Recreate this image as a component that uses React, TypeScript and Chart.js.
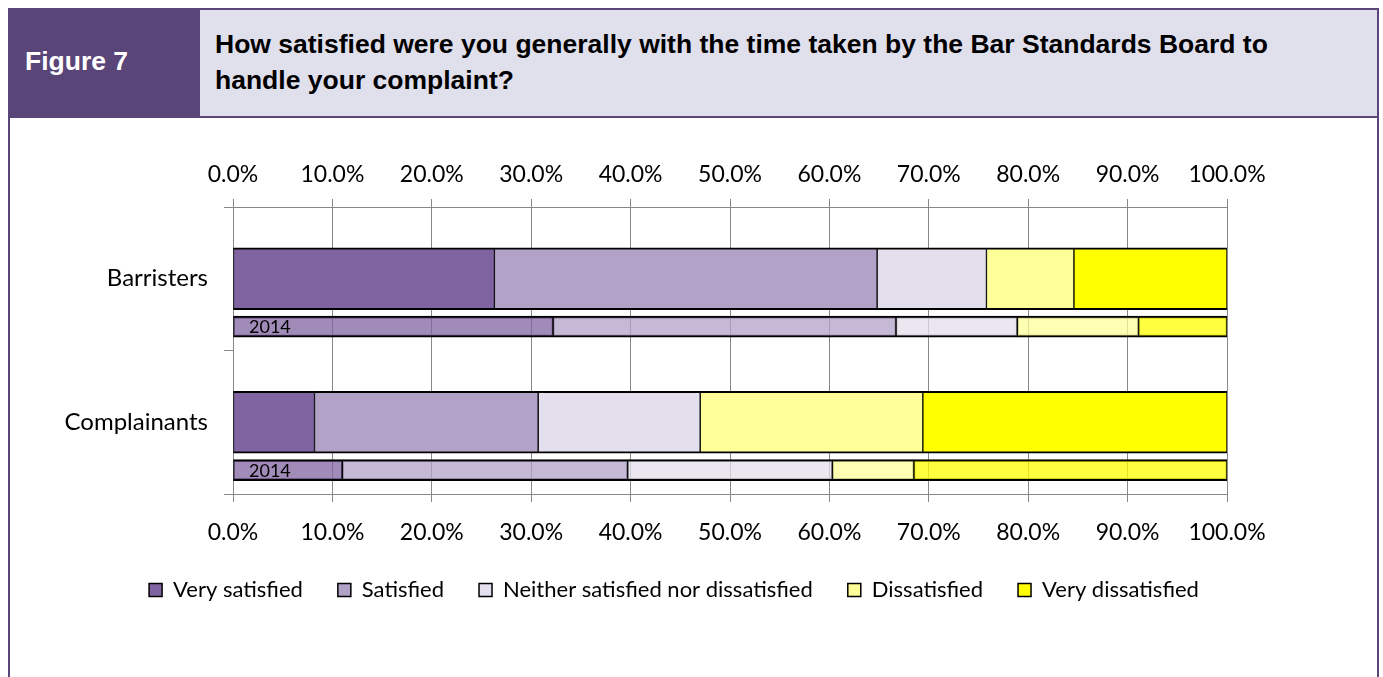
import React, { useEffect, useRef } from 'react';
import { Chart, registerables } from 'chart.js';

Chart.register(...registerables);

// ---- Data ----
const categories = ['Barristers', 'Complainants'];
const responseLevels = [
  'Very satisfied',
  'Satisfied',
  'Neither satisfied nor dissatisfied',
  'Dissatisfied',
  'Very dissatisfied',
];
const verySatisfied = [26.3, 8.2];
const satisfied = [38.5, 22.5];
const neither = [11.0, 16.3];
const dissatisfied = [8.8, 22.4];
const veryDissatisfied = [15.4, 30.6];

const verySatisfied2014 = [32.2, 11.0];
const satisfied2014 = [34.5, 28.7];
const neither2014 = [12.2, 20.6];
const dissatisfied2014 = [12.2, 8.2];
const veryDissatisfied2014 = [8.9, 31.5];

const comparisonLabel = '2014';
const xTickStep = 10;

// ---- Styles ----
const PURPLE = '#5A4579';
const GRID = '#888888';
const currentColors = ['#8064A2', '#B3A2C7', '#E4DFEC', '#FFFF99', '#FFFF00'];
const colors2014 = [
  'rgba(128,100,162,0.75)',
  'rgba(179,162,199,0.75)',
  'rgba(228,223,236,0.75)',
  'rgba(255,255,153,0.75)',
  'rgba(255,255,0,0.75)',
];
const ROW_CENTER = 0.5;
const ROW_2014_OFFSET = 0.334;
const FONT = 'Lato';

const comparisonLabelPlugin = {
  id: 'comparisonLabel',
  afterDatasetsDraw(chart: any) {
    const { ctx, scales } = chart;
    const xs = scales.x;
    const ys = scales.y;
    ctx.save();
    ctx.font = `18px ${FONT}`;
    ctx.fillStyle = '#000';
    ctx.textAlign = 'left';
    ctx.textBaseline = 'middle';
    categories.forEach((_, i) => {
      const y = ys.getPixelForValue(i + ROW_CENTER + ROW_2014_OFFSET);
      const x = xs.getPixelForValue(0) + 16;
      ctx.fillText(comparisonLabel, x, y + 1);
    });
    ctx.restore();
  },
};

export default function App() {
  const ref = useRef<HTMLCanvasElement | null>(null);

  useEffect(() => {
    document.documentElement.style.overflow = 'hidden';
    document.body.style.overflow = 'hidden';
    if (!ref.current) return;
    const currentSeries = [verySatisfied, satisfied, neither, dissatisfied, veryDissatisfied];
    const oldSeries = [verySatisfied2014, satisfied2014, neither2014, dissatisfied2014, veryDissatisfied2014];

    const common = {
      borderColor: '#000',
      borderWidth: { top: 2, bottom: 2, left: 1, right: 1 },
      borderSkipped: false,
      stack: 'all',
      xAxisID: 'x',
      yAxisID: 'y',
    };

    const datasets: any[] = [
      ...currentSeries.map((vals, s) => ({
        ...common,
        label: responseLevels[s],
        data: vals.map((v, i) => ({ x: v, y: i + ROW_CENTER })),
        backgroundColor: currentColors[s],
        barThickness: 62,
      })),
      ...oldSeries.map((vals, s) => ({
        ...common,
        label: responseLevels[s] + ' ' + comparisonLabel,
        data: vals.map((v, i) => ({ x: v, y: i + ROW_CENTER + ROW_2014_OFFSET })),
        backgroundColor: colors2014[s],
        barThickness: 21,
      })),
    ];

    const pctTick = (v: any) => Number(v).toFixed(1) + '%';

    const chart = new Chart(ref.current, {
      type: 'bar',
      data: { datasets },
      options: {
        indexAxis: 'y',
        animation: false,
        responsive: false,
        layout: { padding: { left: 0, right: 38, top: 0, bottom: 66 } },
        scales: {
          x: {
            type: 'linear',
            position: 'bottom',
            min: 0,
            max: 100,
            stacked: true,
            ticks: { stepSize: xTickStep, callback: pctTick, color: '#000', font: { family: FONT, size: 23 }, padding: 17, maxRotation: 0 },
            grid: { color: GRID, lineWidth: 1, tickLength: 8, drawTicks: true },
            border: { color: GRID, width: 1 },
            afterFit: (s: any) => { s.height = 50; },
          },
          x2: {
            type: 'linear',
            position: 'top',
            display: true,
            min: 0,
            max: 100,
            ticks: { stepSize: xTickStep, callback: pctTick, color: '#000', font: { family: FONT, size: 23 }, padding: 11, maxRotation: 0 },
            grid: { drawOnChartArea: false, color: GRID, tickLength: 8 },
            border: { color: GRID, width: 1 },
            afterFit: (s: any) => { s.height = 89; },
          },
          y: {
            type: 'linear',
            position: 'left',
            min: 0,
            max: 2,
            reverse: true,
            offset: false,
            stacked: true,
            afterBuildTicks: (s: any) => {
              s.ticks = [0, 0.5, 1, 1.5, 2].map((v) => ({ value: v }));
            },
            ticks: {
              autoSkip: false,
              color: '#000',
              font: { family: FONT, size: 24 },
              padding: 16,
              callback: (v: any) => {
                const idx = Number(v) - ROW_CENTER;
                return Number.isInteger(idx) && categories[idx] ? categories[idx] : '';
              },
            },
            grid: {
              offset: false,
              drawOnChartArea: false,
              tickLength: 9,
              color: GRID,
              tickColor: (ctx: any) => (ctx.tick && Number.isInteger(ctx.tick.value) ? GRID : 'rgba(0,0,0,0)'),
            },
            border: { color: GRID, width: 1 },
            afterFit: (s: any) => { s.width = 223; },
          },
          yRight: {
            type: 'linear',
            position: 'right',
            display: true,
            min: 0,
            max: 2,
            ticks: { display: false },
            grid: { display: false, drawTicks: false },
            border: { display: false },
            afterFit: (s: any) => { s.width = 111; },
          },
        },
        plugins: {
          tooltip: { enabled: false },
          legend: {
            position: 'bottom',
            labels: {
              boxWidth: 13,
              boxHeight: 13,
              padding: 35,
              color: '#000',
              font: { family: FONT, size: 22 },
              filter: (item: any) => item.datasetIndex < responseLevels.length,
            },
          },
        },
      } as any,
      plugins: [comparisonLabelPlugin],
    });
    return () => chart.destroy();
  }, []);

  return (
    <div
      style={{
        position: 'fixed',
        left: 8,
        top: 8,
        width: 1371,
        height: 720,
        border: `2px solid ${PURPLE}`,
        boxSizing: 'border-box',
        background: '#fff',
      }}
    >
      <div style={{ display: 'flex', height: 108 }}>
        <div
          style={{
            width: 190,
            background: PURPLE,
            color: '#fff',
            fontFamily: '"Liberation Sans", Arial, sans-serif',
            fontWeight: 'bold',
            fontSize: 26.5,
            paddingLeft: 15,
            paddingBottom: 6,
            boxSizing: 'border-box',
            display: 'flex',
            alignItems: 'center',
          }}
        >
          Figure 7
        </div>
        <div
          style={{
            flex: 1,
            background: '#E0DFEC',
            borderBottom: `2px solid ${PURPLE}`,
            boxSizing: 'border-box',
            paddingLeft: 15,
            paddingTop: 16,
            fontFamily: '"Liberation Sans", Arial, sans-serif',
            fontWeight: 'bold',
            fontSize: 26.5,
            lineHeight: '36px',
            color: '#000',
          }}
        >
          How satisfied were you generally with the time taken by the Bar Standards Board to
          <br />
          handle your complaint?
        </div>
      </div>
      <canvas
        ref={ref}
        width={1366}
        height={559}
        style={{ position: 'absolute', left: 0, top: 108, width: 1366, height: 559 }}
      />
    </div>
  );
}
